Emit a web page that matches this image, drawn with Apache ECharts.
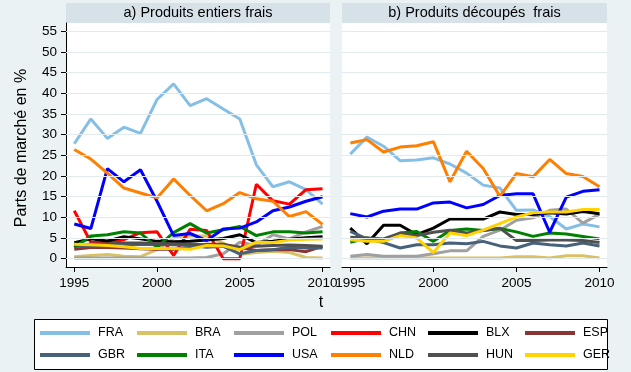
<!DOCTYPE html>
<html>
<head>
<meta charset="utf-8">
<script src="https://cdn.jsdelivr.net/npm/echarts@6/dist/echarts.min.js"></script>
<style>
html,body{margin:0;padding:0;background:#eaf2f3;}
#chart{width:631px;height:372px;}
</style>
</head>
<body>
<div id="chart"></div>
<script>
// ---- Data ----
const years = [1995,1996,1997,1998,1999,2000,2001,2002,2003,2004,2005,2006,2007,2008,2009,2010];
const xTicks = [1995,2000,2005,2010];
const yTicks = [0,5,10,15,20,25,30,35,40,45,50,55];
const panelTitles = ['a) Produits entiers frais', 'b) Produits découpés  frais'];
const countries = ['FRA','BRA','POL','CHN','BLX','ESP','GBR','ITA','USA','NLD','HUN','GER'];

// a) Produits entiers frais
const FRA_a = [27.8,33.8,29.1,31.8,30.3,38.5,42.3,37.0,38.7,36.2,33.8,22.7,17.4,18.6,16.7,13.2];
const BRA_a = [0.5,0.8,1.0,0.6,0.5,2.2,5.0,5.5,5.5,3.8,1.0,1.5,1.8,1.5,0.3,0.2];
const POL_a = [0.2,0.2,0.2,0.2,0.2,0.2,0.2,0.2,0.3,1.2,4.0,3.2,5.8,4.8,6.5,7.8];
const CHN_a = [11.6,4.0,3.8,4.6,6.3,6.5,0.8,7.1,6.8,0,0,18.0,14.0,13.2,16.7,16.9];
const BLX_a = [3.9,4.8,4.3,5.3,4.8,4.2,4.1,4.2,4.5,4.9,5.8,3.9,4.2,4.7,5.1,5.3];
const ESP_a = [2.3,2.7,2.7,2.6,2.4,2.3,2.3,2.7,3.5,3.5,2.7,2.0,2.2,2.2,1.7,3.0];
const GBR_a = [3.1,3.1,3.1,3.2,3.5,3.4,3.4,3.2,2.8,3.0,1.2,2.0,2.2,2.8,2.6,2.6];
const ITA_a = [2.7,5.5,5.8,6.5,6.2,2.8,6.3,8.5,6.2,7.0,7.8,5.6,6.5,6.5,6.2,6.5];
const USA_a = [8.4,7.3,21.8,18.6,21.5,13.9,5.6,6.1,4.4,7.2,7.4,8.9,11.6,12.5,13.9,15.0];
const NLD_a = [26.4,24.1,20.7,17.1,15.9,14.7,19.3,15.3,11.6,13.3,16.0,14.5,13.9,10.2,11.4,8.3];
const HUN_a = [3.4,3.5,3.6,3.8,3.8,3.7,3.6,3.5,3.4,3.3,2.8,3.0,3.2,3.3,3.2,3.0];
const GER_a = [3.5,3.4,3.2,2.9,2.5,2.5,2.5,2.3,3.2,3.1,2.2,4.0,3.9,4.5,4.7,4.8];

// b) Produits découpés frais
const FRA_b = [25.3,29.4,27.2,23.7,23.9,24.4,22.9,20.7,17.8,17.1,11.7,11.8,10.2,7.2,8.4,7.7];
const BRA_b = [0.2,0.2,0.2,0.2,0.2,0.2,0.2,0.2,0.2,0.2,0.5,0.5,0.2,0.7,0.7,0.2];
const POL_b = [0.6,1.0,0.6,0.6,0.6,1.2,1.9,1.9,5.4,6.9,9.3,9.9,11.7,12.0,8.6,10.8];
const CHN_b = [];
const BLX_b = [7.4,3.6,8.1,8.1,5.8,7.4,9.6,9.6,9.6,11.3,10.7,10.7,11.1,10.8,11.4,10.9];
const ESP_b = [];
const GBR_b = [6.6,4.8,3.9,2.6,3.4,3.4,3.8,3.6,4.2,3.1,2.6,3.8,3.4,3.1,3.8,3.1];
const ITA_b = [4.0,5.0,4.4,6.2,6.6,4.2,6.8,7.2,6.8,7.3,6.5,5.4,6.2,6.0,5.4,4.8];
const USA_b = [10.9,10.1,11.5,12.0,12.0,13.5,13.7,12.3,13.1,15.3,15.7,15.7,6.4,14.9,16.3,16.7];
const NLD_b = [28.0,28.8,25.8,27.0,27.3,28.3,18.6,26.0,21.8,15.1,20.6,19.8,24.0,20.6,19.9,17.4];
const HUN_b = [5.2,5.0,4.8,6.2,5.6,6.4,6.9,6.2,6.8,7.4,4.4,4.4,4.5,4.5,4.4,3.9];
const GER_b = [4.6,4.2,4.2,5.6,5.0,1.5,6.2,5.6,6.9,8.5,10.1,11.1,11.3,11.3,11.9,11.9];

const panelA = {FRA:FRA_a,BRA:BRA_a,POL:POL_a,CHN:CHN_a,BLX:BLX_a,ESP:ESP_a,GBR:GBR_a,ITA:ITA_a,USA:USA_a,NLD:NLD_a,HUN:HUN_a,GER:GER_a};
const panelB = {FRA:FRA_b,BRA:BRA_b,POL:POL_b,CHN:CHN_b,BLX:BLX_b,ESP:ESP_b,GBR:GBR_b,ITA:ITA_b,USA:USA_b,NLD:NLD_b,HUN:HUN_b,GER:GER_b};

// ---- Styles ----
const colors = {FRA:'#86bfe6',BRA:'#d9c166',POL:'#a0a0a0',CHN:'#ff0000',BLX:'#000000',ESP:'#8a3434',
  GBR:'#466179',ITA:'#008000',USA:'#0000ff',NLD:'#ff7f00',HUN:'#505050',GER:'#ffd200'};
const FONT = '"Liberation Sans", Arial, sans-serif';
const gridColor = '#e1eaed';

const chart = echarts.init(document.getElementById('chart'), null, {renderer:'canvas'});

function xAxis(gi){
  return {type:'value', gridIndex:gi, min:1994.5, max:2010.45,
    axisLine:{show:true, onZero:false, lineStyle:{color:'#000', width:1}},
    axisTick:{show:true, length:5, customValues:xTicks, lineStyle:{color:'#000'}},
    axisLabel:{show:true, customValues:xTicks, margin:9, color:'#000', fontSize:13.5, fontFamily:FONT,
      formatter: v => String(v)},
    splitLine:{show:false}};
}
function yAxis(gi, showAxis){
  return {type:'value', gridIndex:gi, min:-2, max:57,
    axisLine:{show:showAxis, lineStyle:{color:'#000', width:1}},
    axisTick:{show:showAxis, length:5, customValues:yTicks, lineStyle:{color:'#000'}},
    axisLabel:{show:showAxis, customValues:yTicks, margin:9, color:'#000', fontSize:13.5, fontFamily:FONT},
    splitLine:{show:false}};
}

const series = [];
[panelA, panelB].forEach((panel, gi) => {
  // gridlines through the axis scale
  series.push({type:'line', xAxisIndex:gi, yAxisIndex:gi, data:[], z:1, silent:true,
    markLine:{silent:true, symbol:['none','none'], label:{show:false}, animation:false,
      lineStyle:{color:gridColor, width:1, type:'solid'},
      data: yTicks.map(v => ({yAxis:v}))}});
  countries.forEach(c => {
    const vals = panel[c];
    series.push({name:c, type:'line', xAxisIndex:gi, yAxisIndex:gi,
      data: vals.map((v,i) => [years[i], v]),
      showSymbol:false, symbol:'none', z:3,
      color:colors[c], lineStyle:{color:colors[c], width:3}, animation:false});
  });
});

// one legend per item, laid out in 2 rows x 6 columns
const legends = countries.map((c, i) => ({
  data:[c], left: 40 + (i % 6) * 97, top: 326 + Math.floor(i / 6) * 22,
  orient:'horizontal', padding:0, itemWidth:50, itemHeight:4, icon:'rect',
  selectedMode:false, z:10,
  textStyle:{color:'#000', fontSize:12.5, fontFamily:FONT, lineHeight:14, padding:[0,0,0,3]}
}));

const option = {
  backgroundColor:'#eaf2f3',
  animation:false,
  grid:[
    {left:66, top:23, width:264, height:244, show:true, backgroundColor:'#ffffff', borderWidth:0},
    {left:342, top:23, width:265, height:244, show:true, backgroundColor:'#ffffff', borderWidth:0}
  ],
  xAxis:[xAxis(0), xAxis(1)],
  yAxis:[yAxis(0,true), yAxis(1,false)],
  legend:legends,
  graphic:[
    {type:'rect', left:66, top:3, shape:{width:264, height:20}, style:{fill:'#d6e2e8'}, silent:true},
    {type:'rect', left:342, top:3, shape:{width:265, height:20}, style:{fill:'#d6e2e8'}, silent:true},
    {type:'text', x:198, y:13, style:{text:panelTitles[0], fill:'#000', font:'14.5px '+FONT, align:'center', verticalAlign:'middle'}, silent:true},
    {type:'text', x:474.5, y:13, style:{text:panelTitles[1], fill:'#000', font:'14.5px '+FONT, align:'center', verticalAlign:'middle'}, silent:true},
    {type:'text', x:22, y:148, rotation:Math.PI/2, style:{text:'Parts de marché en %', fill:'#000', font:'16px '+FONT, align:'center', verticalAlign:'middle'}, silent:true},
    {type:'text', x:321, y:303, style:{text:'t', fill:'#000', font:'16px '+FONT, align:'center', verticalAlign:'middle'}, silent:true},
    {type:'rect', z:-1, shape:{x:34.5, y:319.5, width:573, height:50}, style:{fill:'#ffffff', stroke:'#000000', lineWidth:1}, silent:true}
  ],
  series:series
};
chart.setOption(option);
</script>
</body>
</html>
